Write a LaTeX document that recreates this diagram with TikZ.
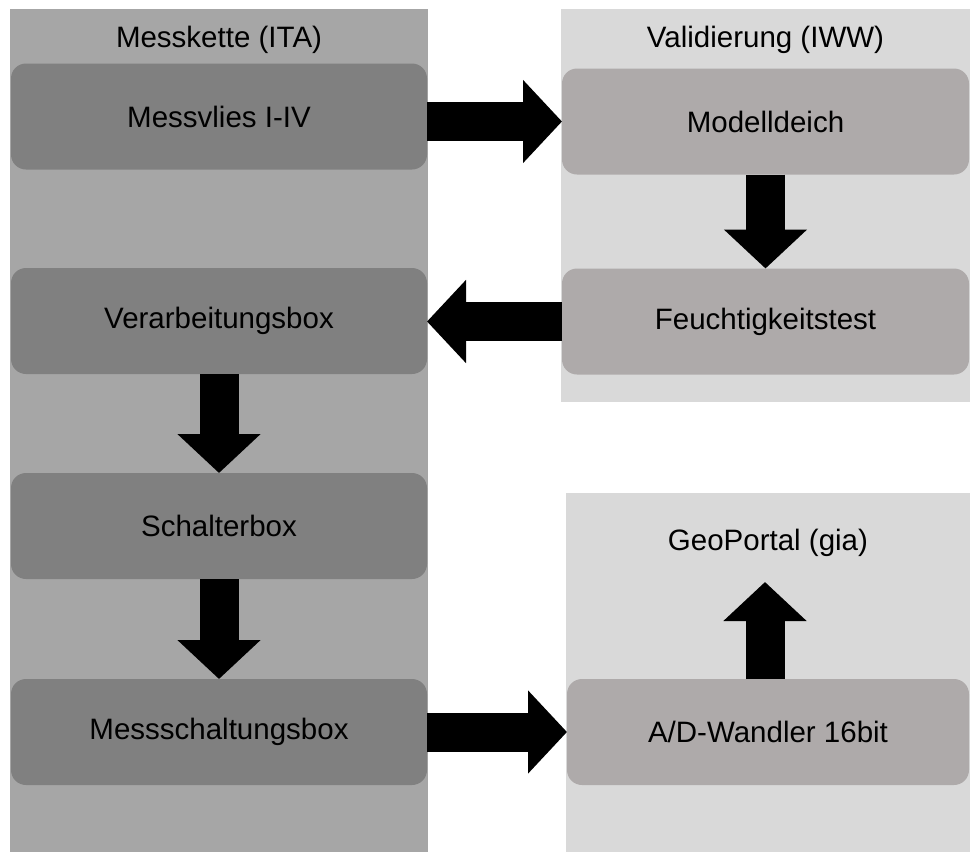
\documentclass[tikz,border=0pt]{standalone}
\usepackage{fontspec}
\setmainfont{Liberation Sans}
\usetikzlibrary{arrows.meta}
\definecolor{paneldark}{HTML}{A6A6A6}
\definecolor{panellight}{HTML}{D9D9D9}
\definecolor{boxdark}{HTML}{808080}
\definecolor{boxlight}{HTML}{AEAAAA}

\begin{document}
\begin{tikzpicture}[
        x=1pt, y=-1pt,
        panel/.style={rectangle, inner sep=0pt, outer sep=0pt},
        title/.style={inner sep=0pt, font=\fontsize{29.5}{35}\selectfont},
        box/.style={rectangle, rounded corners=15pt, minimum height=106pt, inner sep=0pt, outer sep=0pt, font=\fontsize{29.5}{35}\selectfont},
        blockarrow/.style={-{Triangle[width=81pt, length=39pt]}, line width=39pt}
    ]
    \useasboundingbox (0, 0) rectangle (970, 852);

    % Panels
    \node[panel, fill=paneldark, minimum width=418pt, minimum height=843pt] (ITA) at (219, 430.5) {};
    \node[panel, fill=panellight, minimum width=409pt, minimum height=393pt] (IWW) at (765.5, 205.5) {};
    \node[panel, fill=panellight, minimum width=404pt, minimum height=359pt] (GIA) at (768, 672.5) {};

    % Panel titles
    \node[title] (ITAtitle) at (219, 40) {Messkette (ITA)};
    \node[title] (IWWtitle) at (765.5, 40) {Validierung (IWW)};
    \node[title] (GIAtitle) at (768, 543) {GeoPortal (gia)};
    \coordinate (geotip) at (765, 582);

    % Messkette
    \foreach \name/\text/\y in {Messvlies/Messvlies I-IV/116.5, Verarbeitung/Verarbeitungsbox/321, Schalter/Schalterbox/526, Messschaltung/Messschaltungsbox/732} {
        \node[box, fill=boxdark, minimum width=416pt] (\name) at (219, \y) {\text};
    }

    % Validierung
    \node[box, fill=boxlight, minimum width=407pt] (Modelldeich) at (765.5, 121.5) {Modelldeich};
    \node[box, fill=boxlight, minimum width=407pt] (Feuchte) at (765.5, 321.5) {Feuchtigkeitstest};

    % GeoPortal
    \node[box, fill=boxlight, minimum width=402pt] (Wandler) at (768, 732) {A/D-Wandler 16bit};

    % Arrows
    \draw[blockarrow] (Messvlies.east |- Modelldeich) -- (Modelldeich.west);
    \draw[blockarrow] (Modelldeich) -- (Feuchte);
    \draw[blockarrow] (Feuchte.west) -- (Verarbeitung.east |- Feuchte);
    \draw[blockarrow] (Verarbeitung) -- (Schalter);
    \draw[blockarrow] (Schalter) -- (Messschaltung);
    \draw[blockarrow] (Messschaltung.east |- Wandler) -- (Wandler.west);
    \draw[blockarrow] (Wandler.north -| geotip) -- (geotip);

    \end{tikzpicture}
\end{document}
